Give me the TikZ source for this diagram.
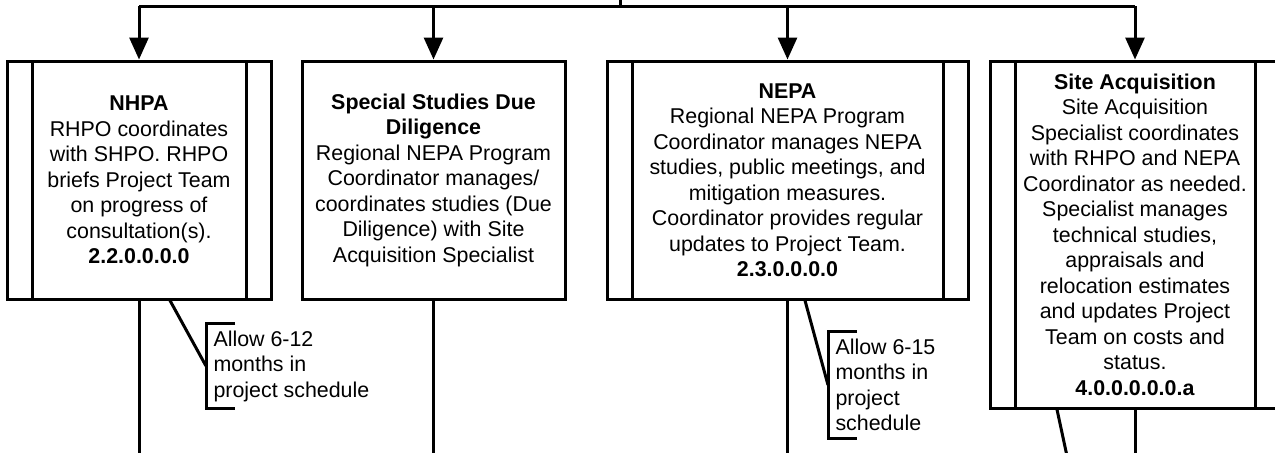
\documentclass[tikz,border=0pt]{standalone}
\usepackage{fontspec}
\setmainfont{Liberation Sans}
\usetikzlibrary{arrows.meta,positioning,calc}

\begin{document}
\begin{tikzpicture}[x=0.5pt, y=-0.5pt, line width=1.5pt,
    task/.style={rectangle, draw=black, minimum width=#1, minimum height=119pt, align=center, inner sep=0pt, font=\fontsize{10.7}{12.75}\selectfont},
    subtask/.style={task=#1, path picture={
        \draw[line width=1.5pt] ([xshift=12.5pt]path picture bounding box.north west) -- ([xshift=12.5pt]path picture bounding box.south west)
          ([xshift=-12.5pt]path picture bounding box.north east) -- ([xshift=-12.5pt]path picture bounding box.south east);}},
    note/.style={align=left, inner xsep=3pt, inner ysep=3pt, font=\fontsize{10.7}{12.75}\selectfont},
    flow/.style={-{Triangle[length=11pt,width=9.5pt]}},
  ]
    \useasboundingbox (0,0) rectangle (1275,452);
    \node[subtask=132pt] (nhpa) at (139,180) {\textbf{NHPA}\\RHPO coordinates\\with SHPO. RHPO\\briefs Project Team\\on progress of\\consultation(s).\\\textbf{2.2.0.0.0.0}};
    \node[task=131.5pt] (special) at (433.5,180) {\textbf{Special Studies Due}\\\textbf{Diligence}\\Regional NEPA Program\\Coordinator manages/\\coordinates studies (Due\\Diligence) with Site\\Acquisition Specialist};
    \node[subtask=180.5pt] (nepa) at (787.5,180) {\textbf{NEPA}\\Regional NEPA Program\\Coordinator manages NEPA\\studies, public meetings, and\\mitigation measures.\\Coordinator provides regular\\updates to Project Team.\\\textbf{2.3.0.0.0.0}};
    \node[subtask=145pt, minimum height=173.5pt] (site) at (1135,234.5) {\textbf{Site Acquisition}\\Site Acquisition\\Specialist coordinates\\with RHPO and NEPA\\Coordinator as needed.\\Specialist manages\\technical studies,\\appraisals and\\relocation estimates\\and updates Project\\Team on costs and\\status.\\\textbf{4.0.0.0.0.0.a}};
    \coordinate (root) at (620,0);
    \coordinate (bus) at (620,6);
    \draw (root) -- (bus);
    \draw (nhpa.north |- bus) -- (site.north |- bus);
    \foreach \n in {nhpa,special,nepa,site}
      \draw[flow] (\n.north |- bus) -- (\n.north);
    \foreach \n in {nhpa,special,nepa,site}
      \draw (\n.south) -- (\n.south |- 0,470);
    \node[note, anchor=west] (delay1) at (206,366) {Allow 6-12\\months in\\project schedule};
    \node[note, anchor=west] (delay2) at (828,385) {Allow 6-15\\months in\\project\\schedule};
    \draw ([xshift=14.5pt]delay1.north west) -- (delay1.north west) -- (delay1.south west) -- ([xshift=14.5pt]delay1.south west);
    \draw ([xshift=14.5pt]delay2.north west) -- (delay2.north west) -- (delay2.south west) -- ([xshift=14.5pt]delay2.south west);
    \draw ([xshift=15.5pt]nhpa.south) -- (delay1.west);
    \draw ([xshift=8.75pt]nepa.south) -- (delay2.west);
    \coordinate (siteoff) at (1070,470);
    \draw ([xshift=-39pt]site.south) -- (siteoff);
  \end{tikzpicture}
\end{document}
